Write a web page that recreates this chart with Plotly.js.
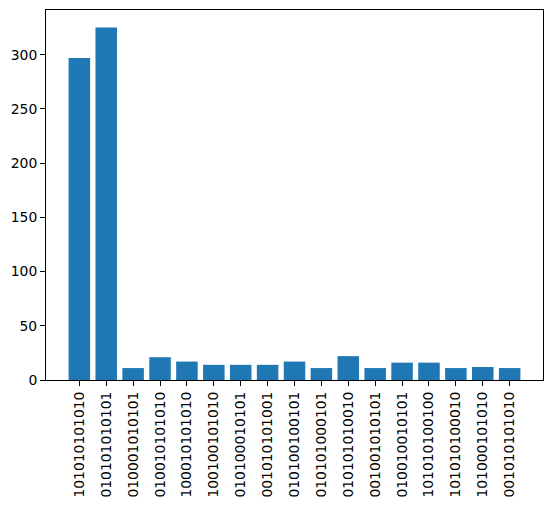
<!DOCTYPE html>
<html>
<head>
<meta charset="utf-8">
<script src="https://cdn.plot.ly/plotly-3.0.1.min.js"></script>
<style>html,body{margin:0;padding:0;background:#fff;}#chart{width:552px;height:505px;}</style>
</head>
<body>
<div id="chart"></div>
<script>
var categories = ["101010101010","010101010101","010001010101","010010101010","100010101010","100100101010","010100010101","001010101001","010100100101","010101000101","010101010010","001001010101","010010010101","101010100100","101010100010","101000101010","001010101010"];
var counts = [297, 325, 11, 21, 17, 14, 14, 14, 17, 11, 22, 11, 16, 16, 11, 12, 11];
var yTicks = [0, 50, 100, 150, 200, 250, 300];

var n = categories.length;
var pad = 0.05 * (n - 1 + 0.8);
var ymax = Math.max.apply(null, counts) * 1.05;

Plotly.newPlot('chart', [{
  type: 'bar',
  x: categories,
  y: counts,
  marker: {color: '#1f77b4', line: {width: 0}},
  hoverinfo: 'x+y'
}], {
  width: 552, height: 505,
  margin: {l: 46, r: 9, t: 10, b: 125, pad: 0},
  paper_bgcolor: '#fff', plot_bgcolor: '#fff',
  bargap: 0.2,
  showlegend: false,
  font: {family: 'DejaVu Sans', size: 13.9, color: '#000'},
  xaxis: {
    type: 'category',
    range: [-0.4 - pad, n - 1 + 0.4 + pad],
    tickangle: -90,
    ticks: 'outside', ticklen: 5, tickwidth: 1, tickcolor: '#000',
    showline: true, mirror: true, linecolor: '#000', linewidth: 1,
    showgrid: false, zeroline: false, automargin: false
  },
  yaxis: {
    range: [0, ymax],
    tickvals: yTicks,
    ticktext: yTicks.map(String),
    ticks: 'outside', ticklen: 5, tickwidth: 1, tickcolor: '#000',
    showline: true, mirror: true, linecolor: '#000', linewidth: 1,
    showgrid: false, zeroline: false, automargin: false
  }
}, {staticPlot: true});
</script>
</body>
</html>
